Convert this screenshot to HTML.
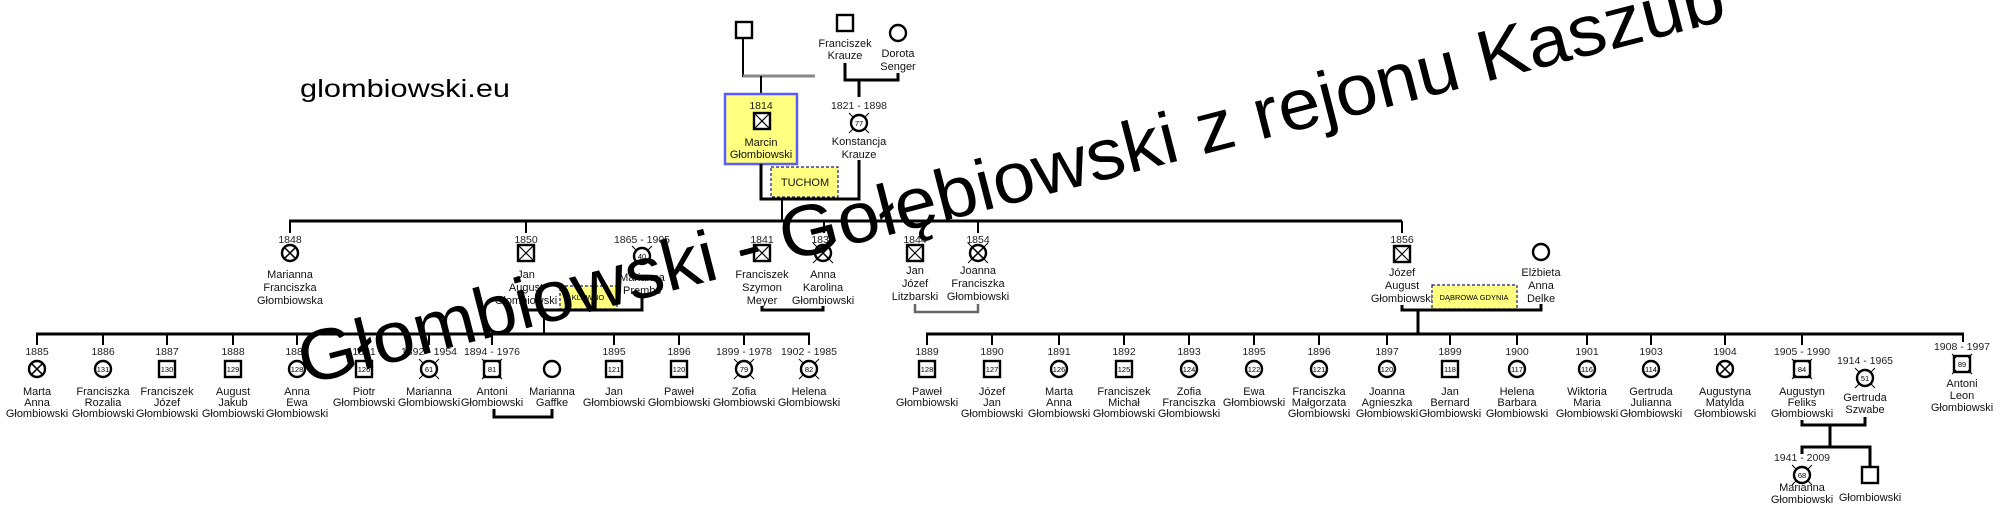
<!DOCTYPE html>
<html><head><meta charset="utf-8"><style>
html,body{margin:0;padding:0;background:#fff;width:2000px;height:520px;overflow:hidden}
svg{display:block}
.t{font-family:"Liberation Sans",sans-serif;font-size:11px;fill:#111;text-anchor:middle}
.y{font-family:"Liberation Sans",sans-serif;font-size:10.5px;fill:#222;text-anchor:middle}
.n{font-family:"Liberation Sans",sans-serif;font-size:7.5px;fill:#000;text-anchor:middle}
.l{stroke:#000;stroke-width:3;fill:none}
.d{stroke:#000;stroke-width:2;fill:none}
</style></head><body>
<svg width="2000" height="520" viewBox="0 0 2000 520" xmlns="http://www.w3.org/2000/svg">
<defs>
<g id="sq"><rect x="-8" y="-8" width="16" height="16" fill="#fff" stroke="#000" stroke-width="2.4"/></g>
<g id="sqx"><rect x="-8" y="-8" width="16" height="16" fill="#fff" stroke="#000" stroke-width="2.4"/><path d="M-7,-7L7,7M7,-7L-7,7" stroke="#000" stroke-width="1.2"/></g>
<g id="ci"><circle r="8" fill="#fff" stroke="#000" stroke-width="2.4"/></g>
<g id="cix"><circle r="8" fill="#fff" stroke="#000" stroke-width="2.4"/><path d="M-5.7,-5.7L5.7,5.7M5.7,-5.7L-5.7,5.7" stroke="#000" stroke-width="1.5"/></g>
<g id="tk"><path d="M-6,-6L-10,-10M6,-6L10,-10M-6,6L-10,10M6,6L10,10" stroke="#000" stroke-width="1"/></g>
</defs>

<text x="300" y="97" font-family="Liberation Sans,sans-serif" font-size="25" textLength="210" lengthAdjust="spacingAndGlyphs" fill="#000">glombiowski.eu</text>

<!-- Generation 0 -->
<line x1="743" y1="38" x2="743" y2="77" class="d"/>
<line x1="743" y1="76" x2="815" y2="76" stroke="#888" stroke-width="3"/>
<line x1="761" y1="76" x2="761" y2="94" class="d"/>
<use href="#sq" x="744" y="30"/>
<use href="#sq" x="845" y="23"/>
<text class="t" x="845" y="47">Franciszek</text><text class="t" x="845" y="59">Krauze</text>
<circle cx="898" cy="33" r="8" fill="#fff" stroke="#000" stroke-width="2.4"/>
<text class="t" x="898" y="57">Dorota</text><text class="t" x="898" y="70">Senger</text>
<path d="M845,63V80H898V73" class="l"/>
<line x1="859" y1="80" x2="859" y2="97" class="l"/>

<rect x="725" y="94" width="72" height="70" fill="#ffff80" stroke="#5b5bff" stroke-width="2.5"/>
<text class="y" x="761" y="109">1814</text>
<use href="#sqx" x="762" y="121"/>
<text class="t" x="761" y="146">Marcin</text><text class="t" x="761" y="158">Głombiowski</text>
<text class="y" x="859" y="109">1821 - 1898</text>
<use href="#ci" x="859" y="123"/><use href="#tk" x="859" y="123"/><text class="n" x="859" y="126">77</text>
<text class="t" x="859" y="145">Konstancja</text><text class="t" x="859" y="158">Krauze</text>
<path d="M761,164V199H859V160" class="l"/>
<line x1="782" y1="199" x2="782" y2="221" class="d"/>
<rect x="771" y="167" width="67" height="30" fill="#ffff80" stroke="#1a1a80" stroke-width="1.2" stroke-dasharray="3,2"/>
<text class="t" x="805" y="186" font-size="10">TUCHOM</text>

<!-- Generation 1 -->
<line x1="289" y1="221" x2="1402" y2="221" class="l"/>
<path d="M290,221V233M526,221V233M824,221V233M978,221V233M1402,221V233" class="d"/>

<text class="y" x="290" y="243">1848</text><use href="#cix" x="290" y="253"/>
<text class="t" x="290" y="278">Marianna</text><text class="t" x="290" y="291">Franciszka</text><text class="t" x="290" y="304">Głombiowska</text>

<text class="y" x="526" y="243">1850</text><use href="#sqx" x="526" y="253"/>
<text class="t" x="526" y="278">Jan</text><text class="t" x="526" y="291">August</text><text class="t" x="526" y="304">Głombiowski</text>

<text class="y" x="642" y="243">1865 - 1905</text><use href="#ci" x="642" y="256"/><use href="#tk" x="642" y="256"/><text class="n" x="642" y="259">40</text>
<text class="t" x="642" y="281">Marianna</text><text class="t" x="642" y="294">Prembs</text>
<rect x="560" y="286" width="57" height="23" fill="#ffff80" stroke="#1a1a80" stroke-width="1.2" stroke-dasharray="3,2"/>
<text class="n" x="588" y="300">KLEWNO</text>
<path d="M526,306V310H642V298" class="l"/>
<line x1="544" y1="310" x2="544" y2="334" class="d"/>

<text class="y" x="762" y="243">1841</text><use href="#sqx" x="762" y="253"/>
<text class="t" x="762" y="278">Franciszek</text><text class="t" x="762" y="291">Szymon</text><text class="t" x="762" y="304">Meyer</text>
<text class="y" x="823" y="243">1838</text><use href="#cix" x="823" y="253"/><use href="#tk" x="823" y="253"/>
<text class="t" x="823" y="278">Anna</text><text class="t" x="823" y="291">Karolina</text><text class="t" x="823" y="304">Głombiowski</text>
<path d="M762,306V310H823V306" class="l"/>

<text class="y" x="915" y="243">1844</text><use href="#sqx" x="915" y="253"/>
<text class="t" x="915" y="274">Jan</text><text class="t" x="915" y="287">Józef</text><text class="t" x="915" y="300">Litzbarski</text>
<text class="y" x="978" y="243">1854</text><use href="#cix" x="978" y="253"/><use href="#tk" x="978" y="253"/>
<text class="t" x="978" y="274">Joanna</text><text class="t" x="978" y="287">Franciszka</text><text class="t" x="978" y="300">Głombiowski</text>
<path d="M915,304V312H978V304" stroke="#666" stroke-width="2.5" fill="none"/>

<text class="y" x="1402" y="243">1856</text><use href="#sqx" x="1402" y="254"/>
<text class="t" x="1402" y="276">Józef</text><text class="t" x="1402" y="289">August</text><text class="t" x="1402" y="302">Głombiowski</text>
<circle cx="1541" cy="252" r="8" fill="#fff" stroke="#000" stroke-width="2.4"/>
<text class="t" x="1541" y="276">Elżbieta</text><text class="t" x="1541" y="289">Anna</text><text class="t" x="1541" y="302">Delke</text>
<rect x="1432" y="285" width="85" height="24" fill="#ffff80" stroke="#1a1a80" stroke-width="1.2" stroke-dasharray="3,2"/>
<text class="n" x="1474" y="300" font-size="7">DĄBROWA GDYNIA</text>
<path d="M1402,305V310H1541V304" class="l"/>
<line x1="1418" y1="310" x2="1418" y2="334" class="l"/>

<!-- Generation 2 left -->
<line x1="36" y1="334" x2="810" y2="334" class="l"/>
<path d="M37,334V345M103,334V345M167,334V345M233,334V345M297,334V345M364,334V345M429,334V345M492,334V345M614,334V345M679,334V345M744,334V345M809,334V345" class="d"/>

<text class="y" x="37" y="355">1885</text><use href="#cix" x="37" y="369"/>
<text class="t" x="37" y="395">Marta</text><text class="t" x="37" y="406">Anna</text><text class="t" x="37" y="417">Głombiowski</text>
<text class="y" x="103" y="355">1886</text><use href="#ci" x="103" y="369"/><text class="n" x="103" y="372">131</text>
<text class="t" x="103" y="395">Franciszka</text><text class="t" x="103" y="406">Rozalia</text><text class="t" x="103" y="417">Głombiowski</text>
<text class="y" x="167" y="355">1887</text><use href="#sq" x="167" y="369"/><text class="n" x="167" y="372">130</text>
<text class="t" x="167" y="395">Franciszek</text><text class="t" x="167" y="406">Józef</text><text class="t" x="167" y="417">Głombiowski</text>
<text class="y" x="233" y="355">1888</text><use href="#sq" x="233" y="369"/><text class="n" x="233" y="372">129</text>
<text class="t" x="233" y="395">August</text><text class="t" x="233" y="406">Jakub</text><text class="t" x="233" y="417">Głombiowski</text>
<text class="y" x="297" y="355">1889</text><use href="#ci" x="297" y="369"/><text class="n" x="297" y="372">128</text>
<text class="t" x="297" y="395">Anna</text><text class="t" x="297" y="406">Ewa</text><text class="t" x="297" y="417">Głombiowski</text>
<text class="y" x="364" y="355">1891</text><use href="#sq" x="364" y="369"/><text class="n" x="364" y="372">126</text>
<text class="t" x="364" y="395">Piotr</text><text class="t" x="364" y="406">Głombiowski</text>
<text class="y" x="429" y="355">1892 - 1954</text><use href="#ci" x="429" y="369"/><use href="#tk" x="429" y="369"/><text class="n" x="429" y="372">61</text>
<text class="t" x="429" y="395">Marianna</text><text class="t" x="429" y="406">Głombiowski</text>
<text class="y" x="492" y="355">1894 - 1976</text><use href="#sq" x="492" y="369"/><use href="#tk" x="492" y="369"/><text class="n" x="492" y="372">81</text>
<text class="t" x="492" y="395">Antoni</text><text class="t" x="492" y="406">Głombiowski</text>
<use href="#ci" x="552" y="369"/>
<text class="t" x="552" y="395">Marianna</text><text class="t" x="552" y="406">Gaffke</text>
<path d="M494,409V417H552V409" class="l"/>
<text class="y" x="614" y="355">1895</text><use href="#sq" x="614" y="369"/><text class="n" x="614" y="372">121</text>
<text class="t" x="614" y="395">Jan</text><text class="t" x="614" y="406">Głombiowski</text>
<text class="y" x="679" y="355">1896</text><use href="#sq" x="679" y="369"/><text class="n" x="679" y="372">120</text>
<text class="t" x="679" y="395">Paweł</text><text class="t" x="679" y="406">Głombiowski</text>
<text class="y" x="744" y="355">1899 - 1978</text><use href="#ci" x="744" y="369"/><use href="#tk" x="744" y="369"/><text class="n" x="744" y="372">79</text>
<text class="t" x="744" y="395">Zofia</text><text class="t" x="744" y="406">Głombiowski</text>
<text class="y" x="809" y="355">1902 - 1985</text><use href="#ci" x="809" y="369"/><use href="#tk" x="809" y="369"/><text class="n" x="809" y="372">82</text>
<text class="t" x="809" y="395">Helena</text><text class="t" x="809" y="406">Głombiowski</text>

<!-- Generation 2 right -->
<line x1="926" y1="334" x2="1964" y2="334" class="l"/>
<path d="M927,334V345M992,334V345M1059,334V345M1124,334V345M1189,334V345M1254,334V345M1319,334V345M1387,334V345M1450,334V345M1517,334V345M1587,334V345M1651,334V345M1725,334V345M1802,334V345M1963,334V342" class="d"/>

<text class="y" x="927" y="355">1889</text><use href="#sq" x="927" y="369"/><text class="n" x="927" y="372">128</text>
<text class="t" x="927" y="395">Paweł</text><text class="t" x="927" y="406">Głombiowski</text>
<text class="y" x="992" y="355">1890</text><use href="#sq" x="992" y="369"/><text class="n" x="992" y="372">127</text>
<text class="t" x="992" y="395">Józef</text><text class="t" x="992" y="406">Jan</text><text class="t" x="992" y="417">Głombiowski</text>
<text class="y" x="1059" y="355">1891</text><use href="#ci" x="1059" y="369"/><text class="n" x="1059" y="372">126</text>
<text class="t" x="1059" y="395">Marta</text><text class="t" x="1059" y="406">Anna</text><text class="t" x="1059" y="417">Głombiowski</text>
<text class="y" x="1124" y="355">1892</text><use href="#sq" x="1124" y="369"/><text class="n" x="1124" y="372">125</text>
<text class="t" x="1124" y="395">Franciszek</text><text class="t" x="1124" y="406">Michał</text><text class="t" x="1124" y="417">Głombiowski</text>
<text class="y" x="1189" y="355">1893</text><use href="#ci" x="1189" y="369"/><text class="n" x="1189" y="372">124</text>
<text class="t" x="1189" y="395">Zofia</text><text class="t" x="1189" y="406">Franciszka</text><text class="t" x="1189" y="417">Głombiowski</text>
<text class="y" x="1254" y="355">1895</text><use href="#ci" x="1254" y="369"/><text class="n" x="1254" y="372">122</text>
<text class="t" x="1254" y="395">Ewa</text><text class="t" x="1254" y="406">Głombiowski</text>
<text class="y" x="1319" y="355">1896</text><use href="#ci" x="1319" y="369"/><text class="n" x="1319" y="372">121</text>
<text class="t" x="1319" y="395">Franciszka</text><text class="t" x="1319" y="406">Małgorzata</text><text class="t" x="1319" y="417">Głombiowski</text>
<text class="y" x="1387" y="355">1897</text><use href="#ci" x="1387" y="369"/><text class="n" x="1387" y="372">120</text>
<text class="t" x="1387" y="395">Joanna</text><text class="t" x="1387" y="406">Agnieszka</text><text class="t" x="1387" y="417">Głombiowski</text>
<text class="y" x="1450" y="355">1899</text><use href="#sq" x="1450" y="369"/><text class="n" x="1450" y="372">118</text>
<text class="t" x="1450" y="395">Jan</text><text class="t" x="1450" y="406">Bernard</text><text class="t" x="1450" y="417">Głombiowski</text>
<text class="y" x="1517" y="355">1900</text><use href="#ci" x="1517" y="369"/><text class="n" x="1517" y="372">117</text>
<text class="t" x="1517" y="395">Helena</text><text class="t" x="1517" y="406">Barbara</text><text class="t" x="1517" y="417">Głombiowski</text>
<text class="y" x="1587" y="355">1901</text><use href="#ci" x="1587" y="369"/><text class="n" x="1587" y="372">116</text>
<text class="t" x="1587" y="395">Wiktoria</text><text class="t" x="1587" y="406">Maria</text><text class="t" x="1587" y="417">Głombiowski</text>
<text class="y" x="1651" y="355">1903</text><use href="#ci" x="1651" y="369"/><text class="n" x="1651" y="372">114</text>
<text class="t" x="1651" y="395">Gertruda</text><text class="t" x="1651" y="406">Julianna</text><text class="t" x="1651" y="417">Głombiowski</text>
<text class="y" x="1725" y="355">1904</text><use href="#cix" x="1725" y="369"/>
<text class="t" x="1725" y="395">Augustyna</text><text class="t" x="1725" y="406">Matylda</text><text class="t" x="1725" y="417">Głombiowski</text>
<text class="y" x="1802" y="355">1905 - 1990</text><use href="#sq" x="1802" y="369"/><use href="#tk" x="1802" y="369"/><text class="n" x="1802" y="372">84</text>
<text class="t" x="1802" y="395">Augustyn</text><text class="t" x="1802" y="406">Feliks</text><text class="t" x="1802" y="417">Głombiowski</text>
<text class="y" x="1865" y="364">1914 - 1965</text><use href="#ci" x="1865" y="378"/><use href="#tk" x="1865" y="378"/><text class="n" x="1865" y="381">51</text>
<text class="t" x="1865" y="401">Gertruda</text><text class="t" x="1865" y="413">Szwabe</text>
<text class="y" x="1962" y="350">1908 - 1997</text><use href="#sq" x="1962" y="364"/><use href="#tk" x="1962" y="364"/><text class="n" x="1962" y="367">89</text>
<text class="t" x="1962" y="387">Antoni</text><text class="t" x="1962" y="399">Leon</text><text class="t" x="1962" y="411">Głombiowski</text>

<!-- Generation 3 -->
<path d="M1802,420V425H1865V417" class="l"/>
<line x1="1830" y1="425" x2="1830" y2="447" class="l"/>
<path d="M1802,454V447H1870V467" class="l"/>
<text class="y" x="1802" y="461">1941 - 2009</text><use href="#ci" x="1802" y="475"/><use href="#tk" x="1802" y="475"/><text class="n" x="1802" y="478">68</text>
<text class="t" x="1802" y="491">Marianna</text><text class="t" x="1802" y="503">Głombiowski</text>
<use href="#sq" x="1870" y="475"/>
<text class="t" x="1870" y="501">Głombiowski</text>

<!-- Watermark -->
<text x="305" y="385" transform="rotate(-14.4 305 385)" font-family="Liberation Sans,sans-serif" font-size="72" textLength="1470" lengthAdjust="spacingAndGlyphs" fill="#000">Głombiowski - Gołębiowski z rejonu Kaszub</text>
</svg>
</body></html>
